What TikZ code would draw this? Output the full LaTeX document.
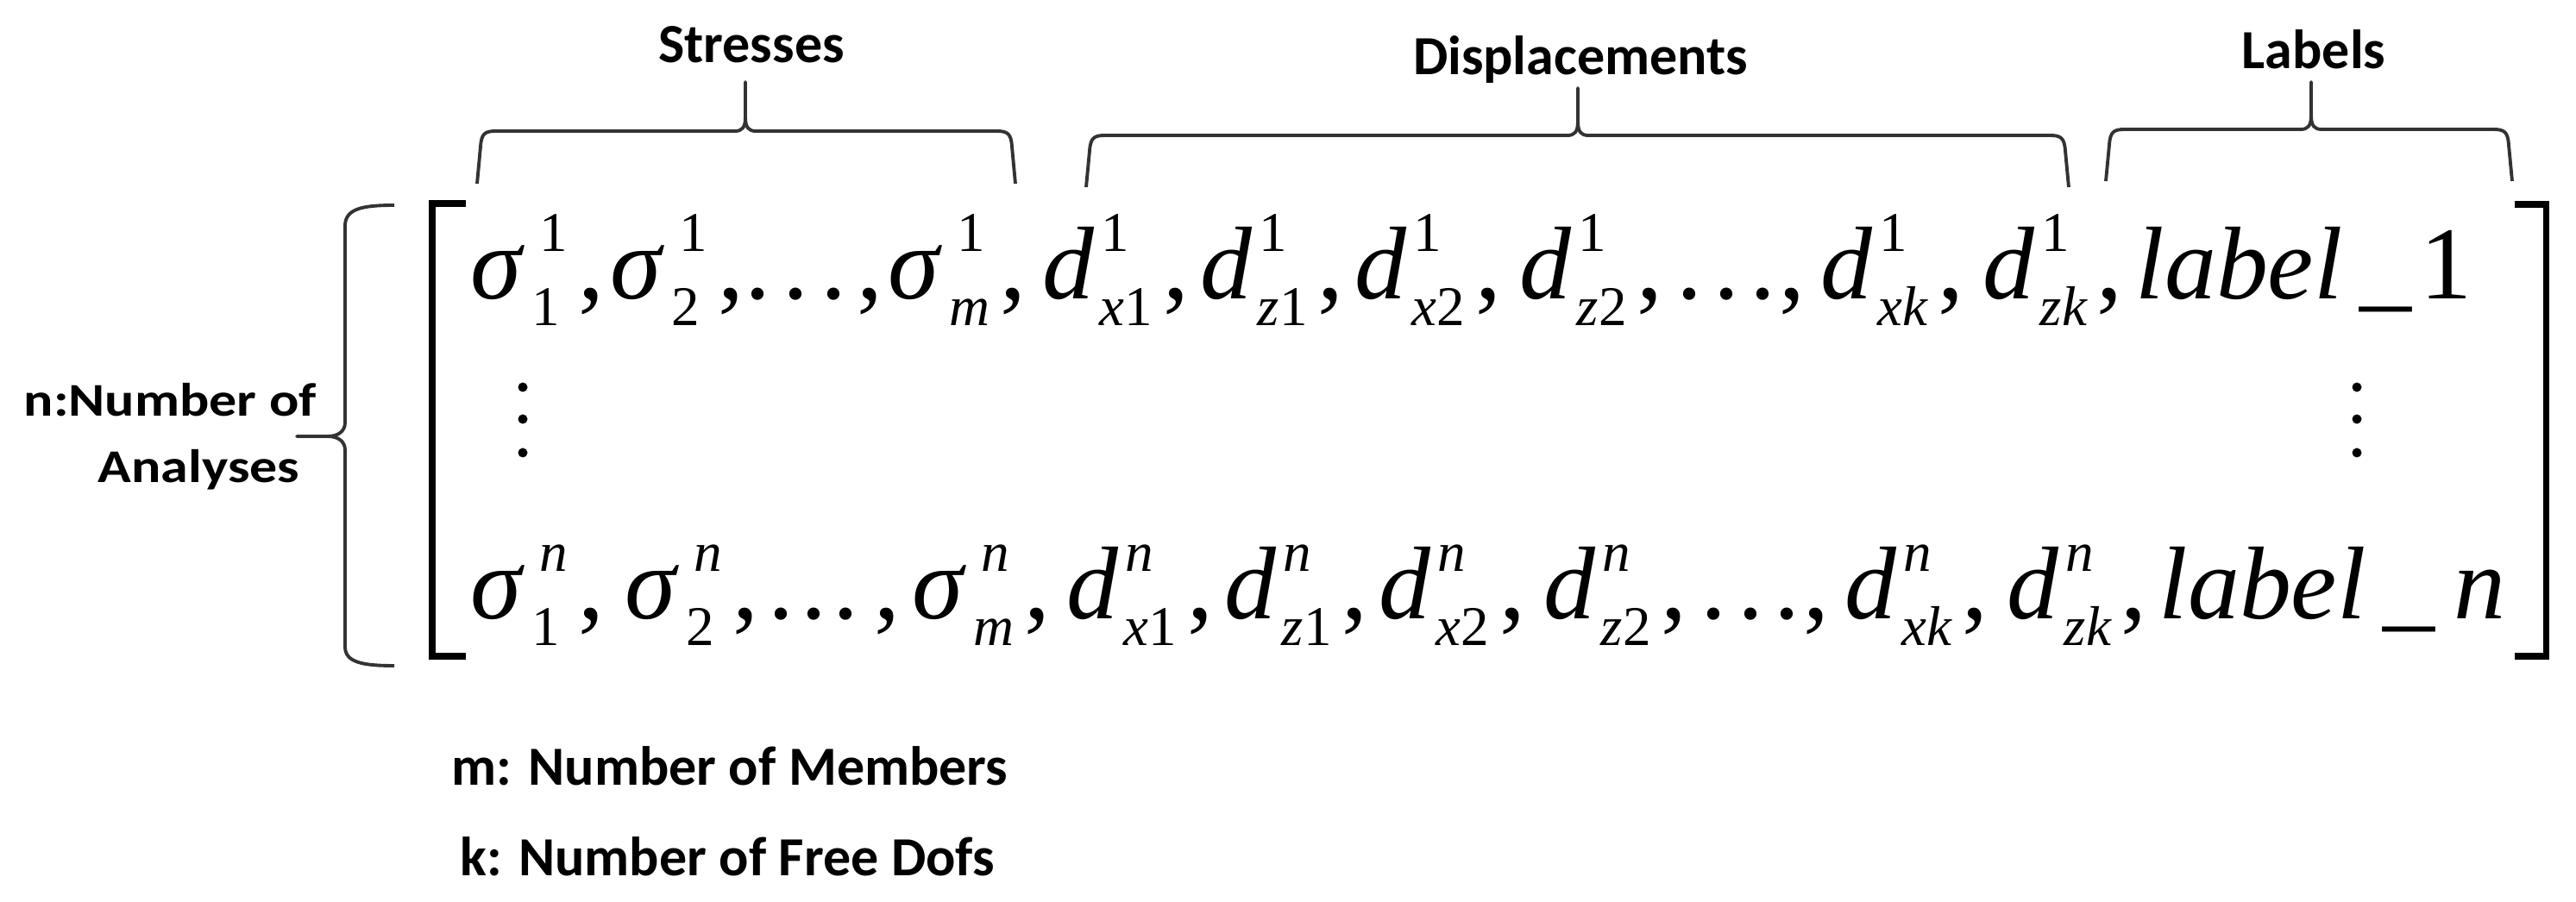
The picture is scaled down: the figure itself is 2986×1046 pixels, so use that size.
\documentclass[tikz,border=0pt]{standalone}
\usepackage{fontspec}
\setmainfont{Carlito}
\newfontfamily\tnr{Liberation Serif}
\usepackage{graphicx}

\newcommand\bigit{\tnr\itshape\fontsize{34.1}{40}\selectfont}
\newcommand\bigrm{\tnr\upshape\fontsize{34.1}{40}\selectfont}
\newcommand\scr{\tnr\upshape\fontsize{18.5}{20}\selectfont}
\newsavebox\supbox
\newsavebox\subbox
\newlength\entw
% #1 base width, #2 base glyph, #3 sup kern, #4 sup, #5 sub
\newcommand\ent[5]{%
  \makebox[#1][l]{\bigit #2}%
  \sbox\supbox{\scr\kern#3\relax #4}\sbox\subbox{\scr #5}%
  \setlength\entw{\wd\supbox}%
  \ifdim\wd\subbox>\entw \setlength\entw{\wd\subbox}\fi
  \rlap{\raisebox{0.55cm}{\usebox\supbox}}%
  \rlap{\raisebox{-0.30cm}{\usebox\subbox}}%
  \hspace*{\entw}}
\newcommand\cma{\kern0.12cm{\bigrm,}}
\newcommand\sgm[2]{\ent{0.71cm}{σ}{0.09cm}{#1}{#2}\cma}
\newcommand\dd[2]{\ent{0.66cm}{d}{0.02cm}{#1}{#2}\cma}

\tikzset{
  lab/.style={font=\fontsize{18.2}{22}\selectfont\bfseries, inner sep=0pt, anchor=base},
  labw/.style={lab, anchor=base west},
  mth/.style={inner sep=0pt, anchor=base west},
  brk/.style={line width=2pt, black},
  brc/.style={line width=1.1pt, black!80, line join=round},
  vdot/.style={fill=black}
}
\newcommand\hbrace[6]{% #1 xl, #2 xr, #3 xtip, #4 ybot, #5 yflat, #6 ytop
  \draw[brc] (#1,#4) -- ({#1+4},{#5+18}) .. controls ({#1+5},{#5+3}) and ({#1+9},#5) .. ({#1+22},#5)
    -- ({#3-12},#5) .. controls ({#3-4},#5) and (#3,{#5-4}) .. (#3,{#5-16}) -- (#3,#6)
    -- (#3,{#5-16}) .. controls (#3,{#5-4}) and ({#3+4},#5) .. ({#3+12},#5)
    -- ({#2-22},#5) .. controls ({#2-9},#5) and ({#2-5},{#5+3}) .. ({#2-4},{#5+18}) -- (#2,#4);}

\begin{document}
\begin{tikzpicture}[x=0.01cm, y=-0.01cm]
\fill[white] (0,0) rectangle (2986,1046);
\path[use as bounding box] (0,0) rectangle (2986,1046);

% top labels and braces
\node[lab] (stress) at (871,73) {Stresses};
\node[lab] (disp) at (1832,87) {Displacements};
\node[lab] (labs) at (2682,80) {Labels};
\hbrace{553}{1177}{864}{213}{152}{95}
\hbrace{1259}{2398}{1829}{217}{157}{102}
\hbrace{2441}{2912}{2679}{210}{150}{95}

% left label and brace
\node[labw] (nn1) at (27,483) {\scalebox{1}[0.85]{n:Number of}};
\node[labw] (nn2) at (113,560) {\scalebox{1}[0.85]{Analyses}};
\draw[brc] (457,238) .. controls (420,238) and (400,242) .. (400,262) -- (400,490)
  .. controls (400,500) and (392,506) .. (380,506) -- (344,506) -- (380,506)
  .. controls (392,506) and (400,512) .. (400,522) -- (400,750)
  .. controls (400,768) and (420,772) .. (457,772);

% matrix brackets
\draw[brk] (540,236) -- (501,236) -- (501,761) -- (540,761);
\draw[brk] (2915,237) -- (2951,237) -- (2951,761) -- (2915,761);

% row 1
\node[mth] (a1) at (545,347) {\sgm{1}{1}};
\node[mth] (a2) at (707,347) {\sgm{1}{2}};
\node[mth] (a3) at (863,347) {\bigrm.\kern0.14cm.\kern0.14cm.\kern0.12cm,};
\node[mth] (a4) at (1029,347) {\sgm{1}{\itshape m}};
\node[mth] (a5) at (1208,347) {\dd{1}{{\itshape x}1}};
\node[mth] (a6) at (1391,347) {\dd{1}{{\itshape z}1}};
\node[mth] (a7) at (1570,347) {\dd{1}{{\itshape x}2}};
\node[mth] (a8) at (1761,347) {\dd{1}{{\itshape z}2}};
\node[mth] (a9) at (1943,347) {\bigrm.\kern0.125cm.\kern0.125cm.\kern0.04cm,};
\node[mth] (a10) at (2110,347) {\dd{1}{\itshape xk}};
\node[mth] (a11) at (2298,347) {\dd{1}{\itshape zk}};
\node[mth] (a12) at (2475,347) {\bigit label\kern0.2cm\upshape\_\kern0.1cm 1};

% vertical dots
\fill[vdot] (606,449) circle[radius=0.055cm];
\fill[vdot] (606,486) circle[radius=0.055cm];
\fill[vdot] (606,525) circle[radius=0.055cm];
\fill[vdot] (2732,449) circle[radius=0.055cm];
\fill[vdot] (2732,486) circle[radius=0.055cm];
\fill[vdot] (2732,525) circle[radius=0.055cm];

% row n
\node[mth] (b1) at (545,718) {\sgm{\itshape n}{1}};
\node[mth] (b2) at (724,718) {\sgm{\itshape n}{2}};
\node[mth] (b3) at (890,718) {\bigrm.\kern0.075cm.\kern0.075cm.\kern0.18cm,};
\node[mth] (b4) at (1057,718) {\sgm{\itshape n}{\itshape m}};
\node[mth] (b5) at (1236,718) {\dd{\itshape n}{{\itshape x}1}};
\node[mth] (b6) at (1419,718) {\dd{\itshape n}{{\itshape z}1}};
\node[mth] (b7) at (1598,718) {\dd{\itshape n}{{\itshape x}2}};
\node[mth] (b8) at (1789,718) {\dd{\itshape n}{{\itshape z}2}};
\node[mth] (b9) at (1971,718) {\bigrm.\kern0.125cm.\kern0.125cm.\kern0.04cm,};
\node[mth] (b10) at (2138,718) {\dd{\itshape n}{\itshape xk}};
\node[mth] (b11) at (2326,718) {\dd{\itshape n}{\itshape zk}};
\node[mth] (b12) at (2502,718) {\bigit label\kern0.2cm\upshape\_\kern0.22cm\itshape n};

% bottom notes
\node[labw] (mnote) at (523,910) {m: Number of Members};
\node[labw] (knote) at (533,1015) {k: Number of Free Dofs};
\end{tikzpicture}
\end{document}
